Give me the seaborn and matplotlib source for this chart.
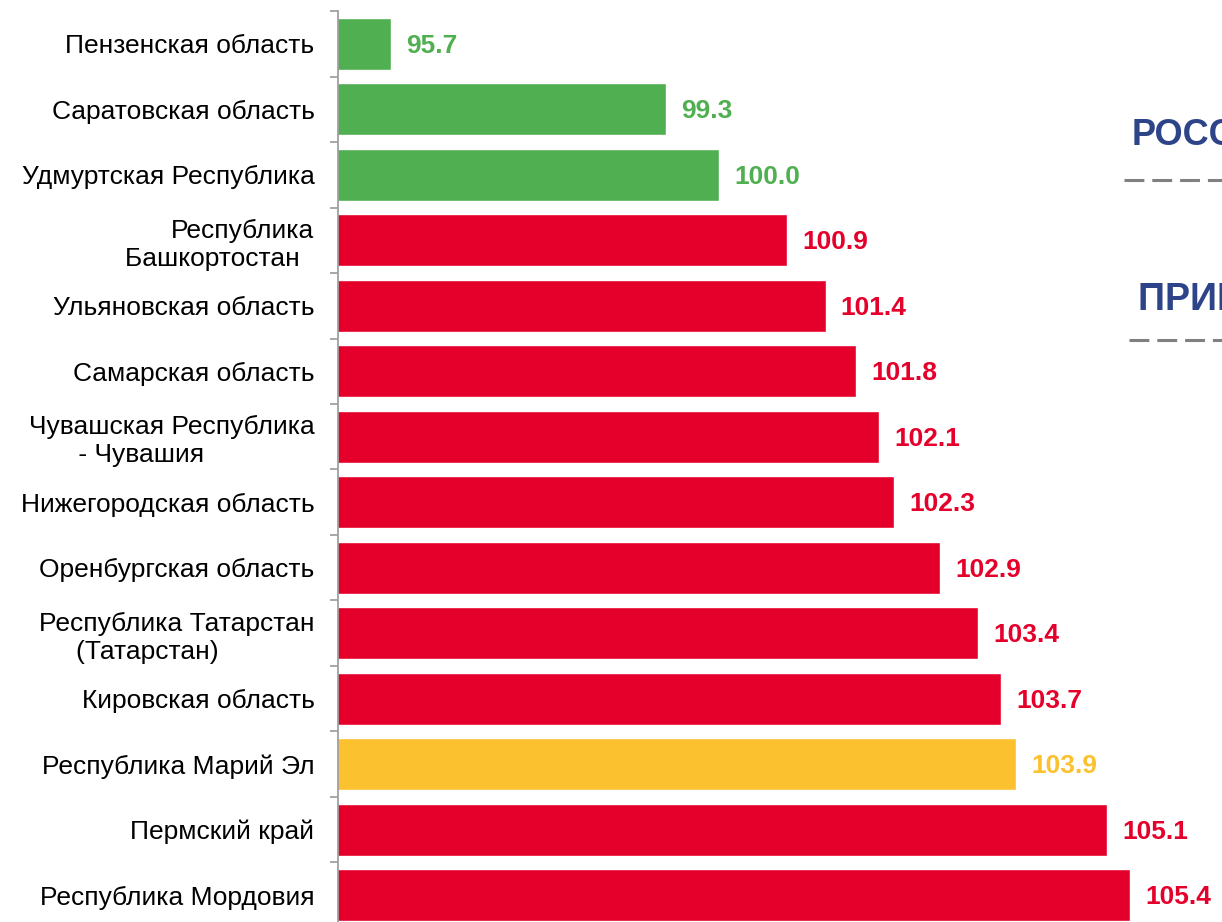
import matplotlib
matplotlib.use("Agg")
import matplotlib.pyplot as plt
import seaborn as sns
import pandas as pd
from matplotlib.lines import Line2D

# --------------------
# Data
# --------------------
regions = [
    "Пензенская область",
    "Саратовская область",
    "Удмуртская Республика",
    "Республика\nБашкортостан  ",
    "Ульяновская область",
    "Самарская область",
    "Чувашская Республика\n - Чувашия" + " " * 15,
    "Нижегородская область",
    "Оренбургская область",
    "Республика Татарстан\n(Татарстан)" + " " * 13,
    "Кировская область",
    "Республика Марий Эл",
    "Пермский край",
    "Республика Мордовия",
]
values = [95.7, 99.3, 100.0, 100.9, 101.4, 101.8, 102.1, 102.3, 102.9, 103.4, 103.7, 103.9, 105.1, 105.4]
groups = ["low", "low", "low", "high", "high", "high", "high", "high", "high", "high", "high", "own", "high", "high"]

group_colors = {"low": "#50AF50", "high": "#E4002B", "own": "#FCC12E"}
title_color = "#2E4488"

df = pd.DataFrame({"region": regions, "value": values, "group": groups})
bar_colors = {r: group_colors[g] for r, g in zip(regions, groups)}

# --------------------
# Plot
# --------------------
sns.set_style("white")
plt.rcParams["font.family"] = ["Liberation Sans", "DejaVu Sans"]

fig = plt.figure(figsize=(12.22, 9.22), dpi=100)
ax = fig.add_axes([0.2766, 0.0, 0.748, 0.988])

sns.barplot(data=df, x="value", y="region", hue="region", palette=bar_colors,
            width=0.79, orient="h", dodge=False, legend=False, saturation=1, ax=ax)

ax.set_xlabel("")
ax.set_ylabel("")
ax.set_xticks([])

for s in ["top", "right", "bottom"]:
    ax.spines[s].set_visible(False)
ax.spines["left"].set_color("#A0A0A0")
ax.spines["left"].set_linewidth(1.3)

# ticks between categories, labels without ticks
ax.set_yticks([i - 0.5 for i in range(len(regions) + 1)], minor=True)
ax.tick_params(axis="y", which="minor", left=True, length=6, color="#A0A0A0", width=1.3)
ax.tick_params(axis="y", which="major", left=False, length=0, pad=17,
               labelsize=19, labelcolor="black")

# limits after ticks (set_yticks would widen them again)
ax.set_xlim(95, 107)
ax.set_ylim(13.41, -0.5)

# value labels in bar colour
for val, grp, i in zip(values, groups, range(len(values))):
    ax.text(val + 0.2, i + 0.03, f"{val:.1f}", va="center", ha="left",
            fontsize=19, fontweight="bold", color=group_colors[grp])

# reference legend on the right (cut off by the frame)
fig.text(1132 / 1222, 1 - 135 / 922, "РОССИЯ", fontsize=26, fontweight="bold",
         color=title_color, va="center", ha="left")
fig.text(1138 / 1222, 1 - 300 / 922, "ПРИВОЛЖСКИЙ ФО", fontsize=27, fontweight="bold",
         color=title_color, va="center", ha="left")
fig.add_artist(Line2D([1124 / 1222, 1.1], [1 - 180 / 922] * 2, color="#808080",
                      lw=2.2, dashes=(6.5, 2.6)))
fig.add_artist(Line2D([1129 / 1222, 1.1], [1 - 340 / 922] * 2, color="#808080",
                      lw=2.2, dashes=(6.5, 2.6)))

fig.savefig("out.png", dpi=100)
